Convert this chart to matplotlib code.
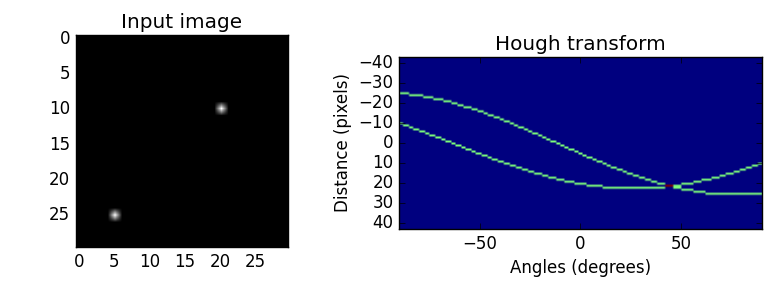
import numpy as np
import matplotlib
matplotlib.use("Agg")
import matplotlib.pyplot as plt

# 输入图像：30x30，两个亮点
img_size = 30
point_rows = [10, 25]
point_cols = [20, 5]

# Hough 变换参数（角度 -90..90，距离 ±43）
n_angles = 180
max_distance = 86

image = np.zeros((img_size, img_size))
image[point_rows, point_cols] = 1

# 累加器：rho = x*cos(theta) + y*sin(theta)
angles = np.linspace(-np.pi / 2, np.pi / 2, n_angles)
distances = np.linspace(-max_distance / 2.0, max_distance / 2.0, max_distance)
accum = np.zeros((max_distance, n_angles))
for r, c in zip(point_rows, point_cols):
    rho = np.round(c * np.cos(angles) + r * np.sin(angles)).astype(int) + max_distance // 2
    accum[rho, np.arange(n_angles)] += 1

plt.style.use("classic")
fig = plt.figure(figsize=(7.75, 2.82), dpi=100)

ax1 = fig.add_axes([0.0968, 0.124, 0.275, 0.752])
ax1.imshow(image, cmap=plt.cm.gray, interpolation="bilinear")
ax1.set_title("Input image")
ax1.set_xticks(np.arange(0, 30, 5))
ax1.set_yticks(np.arange(0, 30, 5))

ax2 = fig.add_axes([0.515, 0.188, 0.468, 0.61])
ax2.imshow(accum, cmap=plt.cm.jet, interpolation="bilinear", aspect="auto",
           extent=(np.rad2deg(angles[0]), np.rad2deg(angles[-1]), distances[-1], distances[0]))
ax2.set_title("Hough transform")
ax2.set_xlabel("Angles (degrees)")
ax2.set_ylabel("Distance (pixels)")
ax2.set_xticks([-50, 0, 50])
ax2.set_yticks(np.arange(-40, 41, 10))

fig.savefig("out.png", dpi=100, facecolor="white")
